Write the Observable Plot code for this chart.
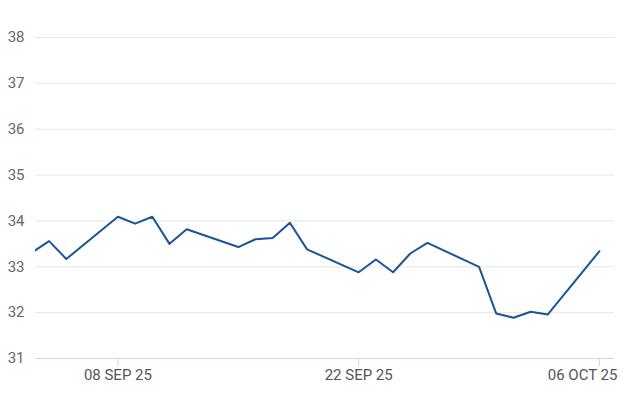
<!DOCTYPE html>
<html>
<head>
<meta charset="utf-8">
<script src="https://cdn.jsdelivr.net/npm/d3@7"></script>
<script src="https://cdn.jsdelivr.net/npm/@observablehq/plot@0.6"></script>
<style>
  html, body { margin: 0; padding: 0; background: #fff; }
  #chart { width: 626px; height: 417px; }
</style>
</head>
<body>
<div id="chart"></div>
<script>
const dates = [
  "2025-09-03","2025-09-04","2025-09-05","2025-09-08","2025-09-09","2025-09-10",
  "2025-09-11","2025-09-12","2025-09-15","2025-09-16","2025-09-17","2025-09-18",
  "2025-09-19","2025-09-22","2025-09-23","2025-09-24","2025-09-25","2025-09-26",
  "2025-09-29","2025-09-30","2025-10-01","2025-10-02","2025-10-03","2025-10-06"
];
const values = [
  33.31, 33.56, 33.17, 34.09, 33.94, 34.09,
  33.50, 33.82, 33.43, 33.60, 33.63, 33.96,
  33.38, 32.88, 33.16, 32.88, 33.29, 33.52,
  33.00, 31.98, 31.89, 32.02, 31.96, 33.34
];
const yTicks = [31, 32, 33, 34, 35, 36, 37, 38];
const xTickDates = ["2025-09-08", "2025-09-22", "2025-10-06"];
const xDomain = ["2025-09-03T05:00:00Z", "2025-10-06T21:00:00Z"];

const data = dates.map((d, i) => ({date: new Date(d + "T00:00:00Z"), value: values[i]}));
const fmt = d3.utcFormat("%d %b %y");
const tickDates = xTickDates.map(d => new Date(d + "T00:00:00Z"));
const tf = d => fmt(d).toUpperCase();
const lastTick = tickDates[tickDates.length - 1];

const chart = Plot.plot({
  width: 626,
  height: 417,
  marginLeft: 35,
  marginRight: 12,
  marginTop: 37,
  marginBottom: 59,
  style: {fontFamily: "Roboto, sans-serif", fontSize: "15px", background: "#fff"},
  x: {type: "utc", domain: xDomain.map(d => new Date(d))},
  y: {domain: [31, 38]},
  marks: [
    Plot.ruleY(yTicks.filter(t => t > 31), {stroke: "#e6e6e6", strokeWidth: 1}),
    Plot.ruleY([31], {stroke: "#ccd6eb", strokeWidth: 1}),
    Plot.axisY({ticks: yTicks, tickFormat: d3.format("d"), tickSize: 0, tickPadding: 11, label: null, color: "#666"}),
    Plot.axisX({
      ticks: tickDates,
      tickFormat: d => (+d === +lastTick ? "" : tf(d)),
      tickSize: 8, tickPadding: 3, label: null, stroke: "#ccd6eb", color: "#555"
    }),
    Plot.axisX({
      ticks: [lastTick],
      tickFormat: tf,
      textAnchor: "end", dx: 18,
      tickSize: 0, tickPadding: 11, label: null, color: "#555"
    }),
    Plot.line(data, {x: "date", y: "value", stroke: "#1a5694", strokeWidth: 2, clip: true})
  ]
});
document.getElementById("chart").appendChild(chart);
</script>
</body>
</html>
